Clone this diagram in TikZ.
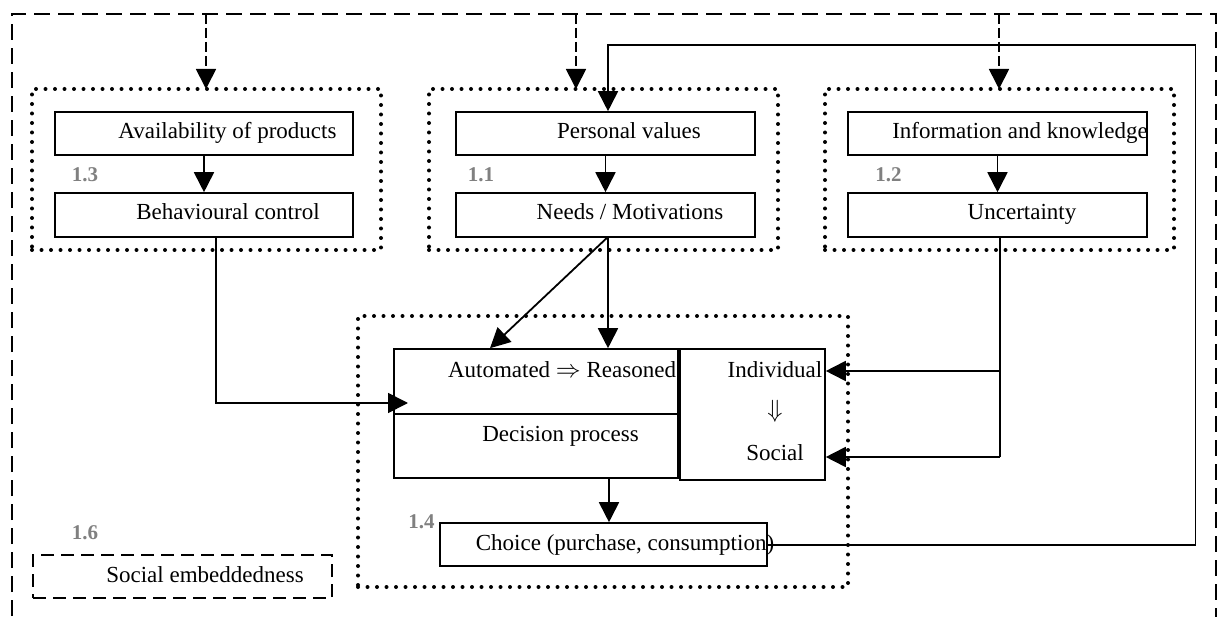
\documentclass[tikz,border=0pt]{standalone}
\usepackage{fontspec}
\setmainfont{Liberation Serif}
\usetikzlibrary{arrows.meta}
\definecolor{numgray}{RGB}{128,128,128}
\begin{document}
\begin{tikzpicture}[x=1pt,y=-1pt,
  box/.style={draw, line width=1.6pt, inner sep=0pt},
  dotframe/.style={draw, line width=4pt, line cap=round, dash pattern=on 0pt off 9.5pt, inner sep=0pt, outer sep=0pt},
  dashframe/.style={line width=2pt, dash pattern=on 16pt off 8pt},
  sebox/.style={draw, line width=1.8pt, dash pattern=on 13pt off 7pt, inner sep=0pt},
  txt/.style={inner sep=0pt, font=\fontsize{23}{27}\selectfont, text height=15pt, text depth=5pt},
  num/.style={inner sep=0pt, text=numgray, font=\bfseries\fontsize{21}{24}\selectfont},
  conn/.style={line width=1.8pt},
  arr/.style={line width=1.8pt, -{Triangle[length=20pt,width=20pt]}},
  darr/.style={line width=1.8pt, dash pattern=on 10pt off 4pt, -{Triangle[length=20pt,width=20pt]}}
]
\useasboundingbox (0,0) rectangle (1217,617);

% outer dashed frame
\draw[dashframe] (12,640) -- (12,14) -- (1216,14) -- (1216,640);

% dotted groups
\node[dotframe, minimum width=349pt, minimum height=161pt] (g13) at (206.5,169.5) {};
\node[dotframe, minimum width=349pt, minimum height=161pt] (g11) at (603.5,169.5) {};
\node[dotframe, minimum width=349pt, minimum height=161pt] (g12) at (999.5,169.5) {};
\node[dotframe, minimum width=490pt, minimum height=271pt] (g14) at (603,451.5) {};

% boxes
\node[box, minimum width=298pt, minimum height=43pt] (avail) at (204,133.5) {};
\node[box, minimum width=298pt, minimum height=44pt] (behav) at (204,215) {};
\node[box, minimum width=299pt, minimum height=43pt] (perval) at (605.5,133.5) {};
\node[box, minimum width=299pt, minimum height=44pt] (needs) at (605.5,215) {};
\node[box, minimum width=299pt, minimum height=43pt] (info) at (997.5,133.5) {};
\node[box, minimum width=299pt, minimum height=44pt] (uncert) at (997.5,215) {};
\node[box, minimum width=284pt, minimum height=65pt] (auto) at (536,381.5) {};
\node[box, minimum width=284pt, minimum height=64pt] (dec) at (536,446) {};
\node[box, minimum width=145pt, minimum height=131pt] (indsoc) at (752.5,414.5) {};
\node[box, minimum width=327pt, minimum height=43pt] (choice) at (603.5,544.5) {};
\node[sebox, minimum width=299pt, minimum height=43pt] (sebx) at (182.5,576.5) {};

% texts
\node[txt] (tavail) at (227.5,133.5) {Availability of products};
\node[txt] (tbehav) at (228,215) {Behavioural control};
\node[txt] (tperval) at (629,133.5) {Personal values};
\node[txt] (tneeds) at (630,215) {Needs / Motivations};
\node[txt] (tinfo) at (1020,133.5) {Information and knowledge};
\node[txt] (tuncert) at (1022,215) {Uncertainty};
\node[txt] (tauto) at (562,372) {Automated $\Rightarrow$ Reasoned};
\node[txt] (tdec) at (560.5,436) {Decision process};
\node[txt] (tind) at (775,372) {Individual};
\node[txt] (tarr) at (775,412) {$\Downarrow$};
\node[txt] (tsoc) at (775,455) {Social};
\node[txt] (tchoice) at (625,545) {Choice (purchase, consumption)};
\node[txt] (tse) at (205,577) {Social embeddedness};

% numbers
\node[num] (n13) at (85,175) {1.3};
\node[num] (n11) at (481,175) {1.1};
\node[num] (n12) at (888.5,175) {1.2};
\node[num] (n14) at (421.5,522) {1.4};
\node[num] (n16) at (85,533) {1.6};

% dashed input arrows from the frame
\coordinate (d13) at (206,14);
\coordinate (d11) at (576,14);
\coordinate (d12) at (999,14);
\draw[darr] (d13) -- (d13 |- g13.north);
\draw[darr] (d11) -- (d11 |- g11.north);
\draw[darr] (d12) -- (d12 |- g12.north);

% inner arrows
\draw[arr] (avail) -- (behav);
\draw[arr] (perval) -- (needs);
\draw[arr] (info) -- (uncert);

% behavioural control -> decision
\coordinate (bin) at (408,403);
\draw[arr] ([xshift=12pt]behav.south) |- (bin);

% needs -> automated/reasoned
\draw[arr] ([xshift=1.5pt]needs.south) -- ([xshift=-46pt]auto.north);
\draw[arr] ([xshift=2.5pt]needs.south) -- ([xshift=2.5pt]needs.south |- auto.north);

% decision -> choice
\draw[arr] ([xshift=73pt]dec.south) -- ([xshift=73pt]dec.south |- choice.north);

% uncertainty -> individual / social
\coordinate (ui) at (1000,371);
\coordinate (ub) at (1000,457);
\draw[conn] ([xshift=2.5pt]uncert.south) -- (ub);
\draw[arr] (ui) -- (ui -| indsoc.east);
\draw[arr] (ub) -- (ub -| indsoc.east);

% feedback choice -> personal values
\coordinate (fb) at (1195.5,45);
\draw[arr] ([yshift=-0.5pt]choice.east) -| (fb) -| ([xshift=2.5pt]perval.north);
\end{tikzpicture}
\end{document}
